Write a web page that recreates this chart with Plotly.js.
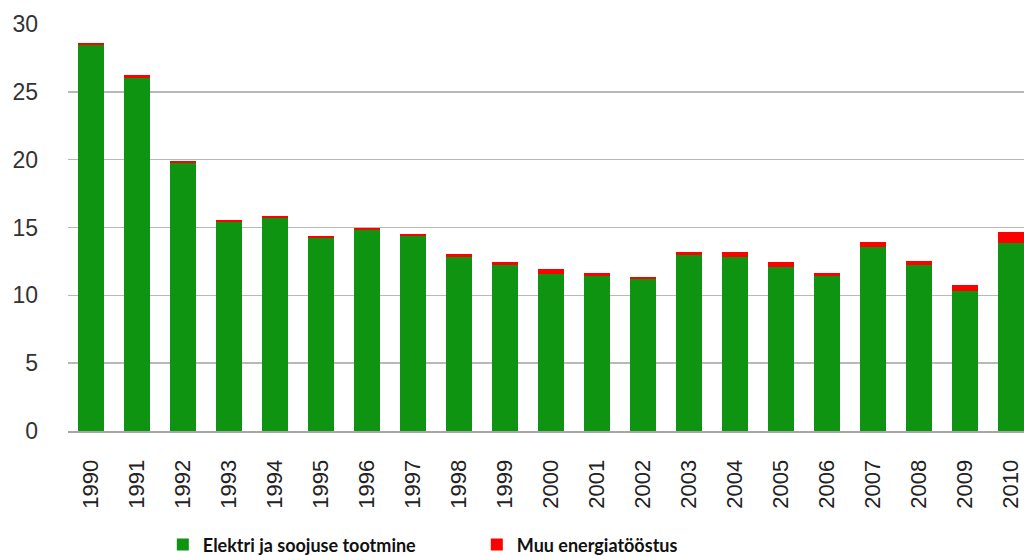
<!DOCTYPE html>
<html><head><meta charset="utf-8">
<script src="https://cdn.plot.ly/plotly-3.0.1.min.js"></script>
<style>html,body{margin:0;padding:0;background:#fff;overflow:hidden}</style>
</head><body>
<div id="chart" style="width:1024px;height:556px"></div>
<script>
const years = ["1990","1991","1992","1993","1994","1995","1996","1997","1998","1999","2000","2001","2002","2003","2004","2005","2006","2007","2008","2009","2010"];
const elektri = [28.43,26.05,19.76,15.42,15.71,14.19,14.78,14.34,12.85,12.26,11.60,11.45,11.18,12.99,12.82,12.08,11.45,13.55,12.20,10.29,13.85];
const muu = [0.17,0.20,0.14,0.15,0.17,0.20,0.20,0.20,0.19,0.19,0.36,0.22,0.17,0.19,0.36,0.35,0.22,0.37,0.35,0.45,0.80];
const yTicks = [0,5,10,15,20,25,30];

const traces = [
  {type:'bar', name:'Elektri ja soojuse tootmine', x:years, y:elektri, marker:{color:'#0e9410'}},
  {type:'bar', name:'Muu energiatööstus', x:years, y:muu, marker:{color:'#ff0000'}}
];
const layout = {
  width:1024, height:556,
  barmode:'stack', bargap:0.43,
  margin:{l:68, r:0, t:24, b:125, autoexpand:false},
  paper_bgcolor:'#fff', plot_bgcolor:'#fff',
  showlegend:true,
  legend:{orientation:'h', x:0.159, xref:'container', xanchor:'left', y:0.02, yref:'container', yanchor:'middle',
    font:{family:'Lato, "Open Sans", sans-serif', size:18, color:'#111', weight:'bold'},
    entrywidth:269, entrywidthmode:'pixels', traceorder:'normal'},
  xaxis:{type:'category', range:[-0.5,20.28], tickangle:-90,
    tickfont:{family:'"Liberation Sans", Arial, sans-serif', size:22, color:'#222'},
    showgrid:false, showline:true, linecolor:'#a6a6a6', linewidth:2, ticks:'', ticklabelstandoff:18, fixedrange:true},
  yaxis:{range:[0,30], tickvals:yTicks, ticktext:yTicks.map(String),
    tickfont:{family:'"Liberation Sans", Arial, sans-serif', size:23, color:'#333'},
    showgrid:true, gridcolor:'#b8b8b8', gridwidth:1.5, zeroline:false,
    showline:false, ticks:'', ticklabelstandoff:29}
};
Plotly.newPlot('chart', traces, layout, {displayModeBar:false, staticPlot:true});
</script>
</body></html>
